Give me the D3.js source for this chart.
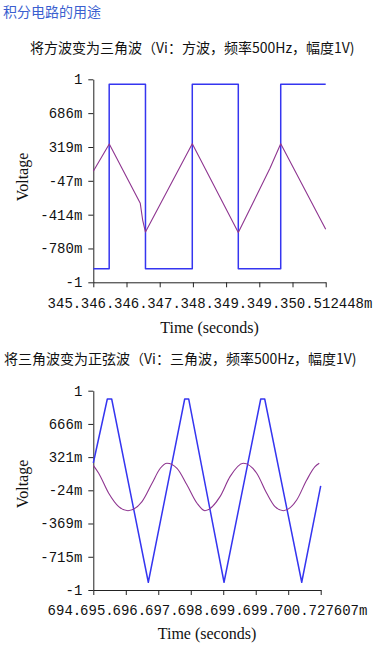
<!DOCTYPE html>
<html>
<head>
<meta charset="utf-8">
<script src="https://cdn.jsdelivr.net/npm/d3@7"></script>
<style>
  html, body { margin: 0; padding: 0; background: #fff; }
  svg { display: block; }
</style>
</head>
<body>
<svg id="chart" width="380" height="648"></svg>
<script>
// ---- data (time in ms, voltage in V) ----
const headerText = "积分电路的用途"
const title1 = "将方波变为三角波（Vi：方波，频率500Hz，幅度1V)"
const title2 = "将三角波变为正弦波（Vi：三角波，频率500Hz，幅度1V)"

// chart 1: square wave in, triangle out
const xTicks1 = [345.472448, 346.192448, 346.912448, 347.632448, 348.352448, 349.072448, 349.792448, 350.512448]
// the labels run into each other, only these parts stay visible
const xTickLabels1 = ["345.", "346.", "346.", "347.", "348.", "349.", "349.", "350.512448m"]
const yTicks1 = [1.0525, 0.686, 0.319, -0.047, -0.414, -0.780, -1.1465]
const yTickLabels1 = ["1", "686m", "319m", "-47m", "-414m", "-780m", "-1"]
const squareTime = [345.472448, 345.817, 346.604, 347.619, 348.617, 349.537, 350.512448]
const squareVolt = [-1, 1, -1, 1, -1, 1, 1]
const rampTime = [345.472448, 345.819, 346.491, 346.543, 346.604, 347.619, 348.617, 349.304, 349.537, 350.512448]
const rampVolt = [0.057, 0.351, -0.291, -0.472, -0.602, 0.355, -0.607, 0.088, 0.354, -0.573]

// chart 2: triangle in, sine out
const xTicks2 = [694.847607, 695.687607, 696.527607, 697.367607, 698.207607, 699.047607, 699.887607, 700.727607]
const xTickLabels2 = ["694.", "695.", "696.", "697.", "698.", "699.", "699.", "700.727607m"]
const yTicks2 = [1.0115, 0.666, 0.321, -0.024, -0.369, -0.715, -1.0605]
const yTickLabels2 = ["1", "666m", "321m", "-24m", "-369m", "-715m", "-1"]
const triTime = [694.847607, 695.210, 695.323, 696.270, 697.211, 697.315, 698.228, 699.177, 699.280, 700.237, 700.727607]
const triVolt = [0.26, 0.925, 0.925, -0.980, 0.925, 0.925, -0.980, 0.925, 0.925, -0.980, 0.021]
const sineTime = [694.847607, 694.987, 695.246, 695.504, 695.745, 696.107, 696.367, 696.580, 696.753, 697.012, 697.271, 697.530, 697.736, 698.124, 698.383, 698.727, 699.073, 699.332, 699.546, 699.761, 700.107, 700.366, 700.580, 700.690]
const sineVolt = [0.235, 0.153, -0.055, -0.194, -0.236, -0.142, 0.049, 0.205, 0.257, 0.205, 0.031, -0.159, -0.236, -0.090, 0.118, 0.257, 0.153, -0.055, -0.194, -0.236, -0.125, 0.083, 0.221, 0.257]

const blue = "#3535f0"
const purple = "#8e3590"
const monoFont = "'Liberation Mono', 'DejaVu Sans Mono', monospace"
const serifFont = "'Liberation Serif', 'DejaVu Serif', serif"
const cjkFont = "'Noto Sans CJK SC', sans-serif"

let svg = d3.select("#chart")

svg.append("text")
  .attr("x", 3)
  .attr("y", 17)
  .attr("font-family", cjkFont)
  .attr("font-size", 14)
  .attr("fill", "#3b5fd0")
  .text(headerText)

function draw_chart(cfg) {
  const g = svg.append("g")

  g.append("text")
    .attr("x", cfg.titleX)
    .attr("y", cfg.titleY)
    .attr("font-family", cjkFont)
    .attr("font-size", 14)
    .attr("fill", "#111")
    .text(cfg.title)

  const xScale = d3.scaleLinear()
    .domain(d3.extent(cfg.xTicks))
    .range([cfg.left, cfg.right])

  const yScale = d3.scaleLinear()
    .domain(d3.extent(cfg.yTicks))
    .range([cfg.bottom, cfg.top])

  // y axis
  let y_axis = d3.axisLeft(yScale)
    .tickValues(cfg.yTicks)
    .tickFormat((d, i) => cfg.yLabels[i])
    .tickSize(5)
    .tickSizeOuter(0)
    .tickPadding(6)

  let gy = g.append("g")
    .attr("transform", `translate(${cfg.left},0)`)
    .call(y_axis)
  gy.selectAll("text").attr("font-family", monoFont).attr("font-size", 14).attr("fill", "#111")
  gy.selectAll("line, path").attr("stroke", "#222")

  // x axis: every label starts where a full centred label would start
  let x_axis = d3.axisBottom(xScale)
    .tickValues(cfg.xTicks)
    .tickFormat((d, i) => cfg.xLabels[i])
    .tickSize(5)
    .tickSizeOuter(0)
    .tickPadding(0)

  let gx = g.append("g")
    .attr("transform", `translate(0,${cfg.bottom})`)
    .call(x_axis)
  gx.selectAll("line, path").attr("stroke", "#222")
  let xt = gx.selectAll(".tick text")
    .attr("font-family", monoFont)
    .attr("font-size", 14)
    .attr("fill", "#111")
    .attr("dy", null)
    .attr("y", cfg.labelOffset)
  let fullW = d3.max(xt.nodes(), (n) => n.getComputedTextLength())
  xt.attr("text-anchor", "start").attr("x", -fullW / 2)

  // axis titles
  g.append("text")
    .attr("transform", `translate(22,${cfg.vLabelY}) rotate(-90)`)
    .attr("text-anchor", "middle")
    .attr("dy", "0.35em")
    .attr("font-family", serifFont)
    .attr("font-size", 16)
    .attr("fill", "#111")
    .text("Voltage")

  g.append("text")
    .attr("x", (cfg.left + cfg.right) / 2)
    .attr("y", cfg.bottom + cfg.timeOffset)
    .attr("text-anchor", "middle")
    .attr("font-family", serifFont)
    .attr("font-size", 16)
    .attr("fill", "#111")
    .text("Time (seconds)")

  // series
  cfg.series.forEach((s) => {
    let pts = s.t.map((t, i) => [t, s.v[i]])
    let line = d3.line()
      .x((d) => xScale(d[0]))
      .y((d) => yScale(d[1]))
      .curve(s.curve)
    g.append("path")
      .datum(pts)
      .attr("fill", "none")
      .attr("stroke", s.color)
      .attr("stroke-width", s.width)
      .attr("stroke-linejoin", "round")
      .attr("d", line)
  })
}

draw_chart({
  title: title1, titleX: 30, titleY: 53,
  left: 93.3, right: 325.7, top: 79.3, bottom: 282.3,
  xTicks: xTicks1, xLabels: xTickLabels1,
  yTicks: yTicks1, yLabels: yTickLabels1,
  labelOffset: 26, timeOffset: 51, vLabelY: 177,
  series: [
    { t: squareTime, v: squareVolt, color: blue, width: 1.5, curve: d3.curveStepAfter },
    { t: rampTime, v: rampVolt, color: purple, width: 1.1, curve: d3.curveLinear },
  ],
})

draw_chart({
  title: title2, titleX: 4, titleY: 364,
  left: 93.3, right: 320.7, top: 390.7, bottom: 590,
  xTicks: xTicks2, xLabels: xTickLabels2,
  yTicks: yTicks2, yLabels: yTickLabels2,
  labelOffset: 25, timeOffset: 49, vLabelY: 484,
  series: [
    { t: triTime, v: triVolt, color: blue, width: 1.5, curve: d3.curveLinear },
    { t: sineTime, v: sineVolt, color: purple, width: 1.1, curve: d3.curveMonotoneX },
  ],
})
</script>
</body>
</html>
